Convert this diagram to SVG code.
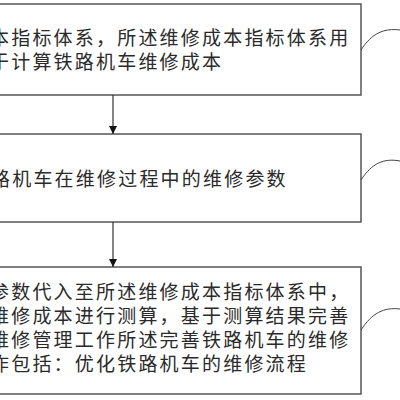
<svg xmlns="http://www.w3.org/2000/svg" width="400" height="400" viewBox="0 0 400 400">
<defs>
<style>
.box{fill:#fff;stroke:#555;stroke-width:1.5}
.t{font-family:"Noto Sans CJK SC","Noto Sans CJK JP",sans-serif;font-size:19px;letter-spacing:2.2px;fill:#2a2a2a}
.c{fill:none;stroke:#333;stroke-width:1.2}
.lead{fill:none;stroke:#444;stroke-width:1}
</style>
<marker id="ah" viewBox="0 0 10 10" refX="10" refY="5" markerWidth="8" markerHeight="9" markerUnits="userSpaceOnUse" orient="auto">
<path d="M0,0 L10,5 L0,10 Z" fill="#111"/>
</marker>
</defs>
<rect width="400" height="400" fill="#fff"/>
<g id="node1">
<rect class="box" x="-10" y="4" width="371" height="91"/>
<text class="t" x="-10" y="45">本指标体系，所述维修成本指标体系用</text>
<text class="t" x="-10" y="69">于计算铁路机车维修成本</text>
</g>
<g id="node2">
<rect class="box" x="-10" y="134" width="371" height="88"/>
<text class="t" x="-9" y="186">路机车在维修过程中的维修参数</text>
</g>
<g id="node3">
<rect class="box" x="-10" y="267" width="371" height="127"/>
<text class="t" x="-10" y="299">参数代入至所述维修成本指标体系中，</text>
<text class="t" x="-10" y="323">维修成本进行测算，基于测算结果完善</text>
<text class="t" x="-10" y="347">维修管理工作所述完善铁路机车的维修</text>
<text class="t" x="-10" y="371">作包括：优化铁路机车的维修流程</text>
</g>
<g id="connectors">
<line class="c" x1="113" y1="95" x2="113" y2="134" marker-end="url(#ah)"/>
<line class="c" x1="113" y1="222" x2="113" y2="267" marker-end="url(#ah)"/>
<path class="lead" d="M361,50 C372,33 384,28 400,30"/>
<path class="lead" d="M361,180 C372,163 384,158 400,161"/>
<path class="lead" d="M361,330 C372,313 384,307 400,309"/>
</g>
</svg>
